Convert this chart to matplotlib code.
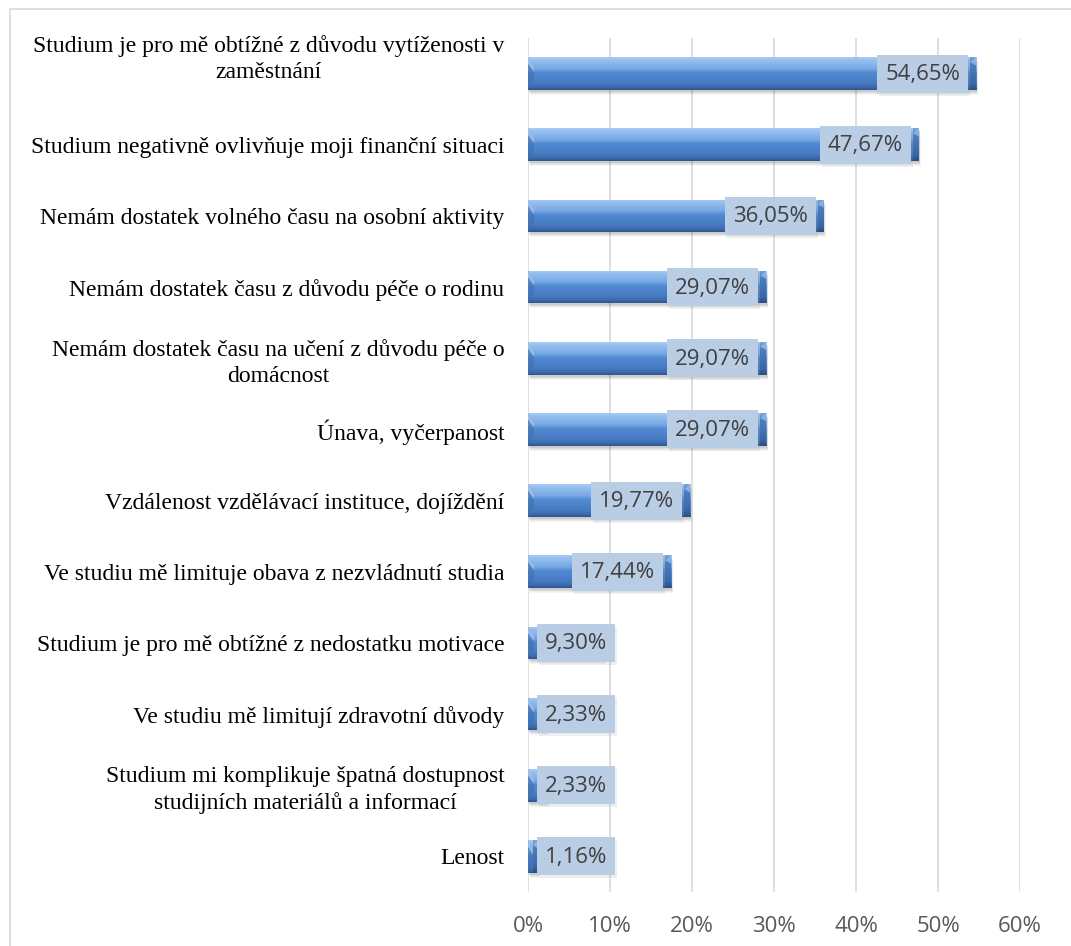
import numpy as np
import matplotlib
matplotlib.use("Agg")
import matplotlib.pyplot as plt
import matplotlib.transforms as mtransforms
from matplotlib.patches import Rectangle, Polygon
from matplotlib.colors import LinearSegmentedColormap

categories = [
    "Studium je pro mě obtížné z důvodu vytíženosti v\nzaměstnání",
    "Studium negativně ovlivňuje moji finanční situaci",
    "Nemám dostatek volného času na osobní aktivity",
    "Nemám dostatek času z důvodu péče o rodinu",
    "Nemám dostatek času na učení z důvodu péče o\ndomácnost",
    "Únava, vyčerpanost",
    "Vzdálenost vzdělávací instituce, dojíždění",
    "Ve studiu mě limituje obava z nezvládnutí studia",
    "Studium je pro mě obtížné z nedostatku motivace",
    "Ve studiu mě limitují zdravotní důvody",
    "Studium mi komplikuje špatná dostupnost\nstudijních materiálů a informací",
    "Lenost",
]
values = [54.65, 47.67, 36.05, 29.07, 29.07, 29.07, 19.77, 17.44, 9.30, 2.33, 2.33, 1.16]
value_labels = ["54,65%", "47,67%", "36,05%", "29,07%", "29,07%", "29,07%",
                "19,77%", "17,44%", "9,30%", "2,33%", "2,33%", "1,16%"]
x_ticks = [0, 10, 20, 30, 40, 50, 60]
x_tick_labels = ["0%", "10%", "20%", "30%", "40%", "50%", "60%"]

W, H, DPI = 1071, 946, 100
fig = plt.figure(figsize=(W / DPI, H / DPI), dpi=DPI)
fig.patch.set_facecolor("white")

# outer chart border (runs off the right and bottom edges)
fig.add_artist(Rectangle((10 / W, -0.2), 2.0, 1 - 9 / H + 0.2, transform=fig.transFigure,
                         facecolor="none", edgecolor="#d9d9d9", lw=1.2))

ax = fig.add_axes([528 / W, 1 - 892 / H, 492 / W, 854 / H])
n = len(categories)
ypos = np.arange(n)
bar_h = 0.46

ax.set_xlim(0, 60)
ax.set_ylim(n - 0.5, -0.5)
for s in ax.spines.values():
    s.set_visible(False)
ax.set_xticks(x_ticks)
ax.set_xticklabels(x_tick_labels, fontsize=16, color="#595959", family="Open Sans")
ax.set_yticks(ypos)
ax.set_yticklabels(categories, fontsize=17, family="Liberation Serif", color="black")
for t in ax.get_yticklabels():
    t.set_multialignment("center")
    t.set_linespacing(1.3)
ax.tick_params(axis="both", length=0)
ax.tick_params(axis="y", pad=17)
ax.tick_params(axis="x", pad=17)
ax.grid(axis="x", color="#d9d9d9", lw=1.2, zorder=0)
ax.set_axisbelow(True)

# the top two-line label sits a little higher than its bar
first = ax.yaxis.get_major_ticks()[0].label1
first.set_transform(first.get_transform() + mtransforms.ScaledTranslation(0, 14 / 72, fig.dpi_scale_trans))

# pixel -> data conversion factors
px_x = 60 / 492.0
px_y = n / 854.0

body_cmap = LinearSegmentedColormap.from_list("body", [
    (0.00, "#a9ccf4"), (0.10, "#95bfef"), (0.35, "#78a9e5"),
    (0.47, "#528bd2"), (0.80, "#4579c0"), (0.92, "#3b6aa9"), (1.00, "#2c5289")])
cap_cmap = LinearSegmentedColormap.from_list("cap", [
    (0.00, "#7fa9dc"), (0.20, "#4f7fbe"), (0.80, "#3a68a6"), (1.00, "#2a4d80")])
grad = np.linspace(0, 1, 256).reshape(-1, 1)

for y, v in zip(ypos, values):
    top, bot = y - bar_h / 2, y + bar_h / 2
    # soft drop shadow
    for k, a in [(5, 0.05), (4, 0.06), (3, 0.08), (2, 0.10)]:
        ax.add_patch(Rectangle((k * 0.4 * px_x, top + k * px_y), v, bar_h,
                               facecolor="#404040", alpha=a, lw=0, zorder=2))
    body = Rectangle((0, top), v, bar_h, facecolor="#4f81bd", lw=0, zorder=3)
    ax.add_patch(body)
    im = ax.imshow(grad, extent=[0, v, bot, top], aspect="auto", cmap=body_cmap,
                   interpolation="bicubic", zorder=3.1)
    im.set_clip_path(body)
    # bevelled ends
    bw = min(6 * px_x, v / 2)
    ax.add_patch(Polygon([(0, top), (bw, top + 0.3 * bar_h), (bw, bot - 0.3 * bar_h), (0, bot)],
                         closed=True, facecolor="#3f6ead", alpha=0.55, lw=0, zorder=3.2))
    ax.add_patch(Polygon([(0, top), (bw, top + 0.3 * bar_h), (bw, top + 0.45 * bar_h), (0, top + 0.2 * bar_h)],
                         closed=True, facecolor="#c7dcf6", alpha=0.6, lw=0, zorder=3.3))
    cap = Rectangle((v - bw, top), bw, bar_h, lw=0, facecolor="none", zorder=3.4)
    ax.add_patch(cap)
    im2 = ax.imshow(grad, extent=[v - bw, v, bot, top], aspect="auto", cmap=cap_cmap,
                    interpolation="bicubic", zorder=3.4)
    im2.set_clip_path(cap)
    ax.add_patch(Polygon([(v - bw, top + 0.15 * bar_h), (v, top), (v, top + 0.25 * bar_h)],
                         closed=True, facecolor="#9cc2ef", alpha=0.7, lw=0, zorder=3.5))

ax.set_xlim(0, 60)
ax.set_ylim(n - 0.5, -0.5)

# value labels in boxes at the inside end of each bar
fig.canvas.draw()
renderer = fig.canvas.get_renderer()
box_h = 38 * px_y
for y, v, lab in zip(ypos, values, value_labels):
    t = ax.text(v, y, lab, ha="center", va="center", fontsize=16, family="Open Sans",
                color="#404040", zorder=6)
    wpx = t.get_window_extent(renderer).width
    bwid = (wpx + 16) * px_x
    right = v - 8 * px_x
    left = right - bwid
    if left < 9 * px_x:
        left = 9 * px_x
    t.set_x(left + bwid / 2)
    t.set_y(y + 1 * px_y)
    ax.add_patch(Rectangle((left + 2 * px_x, y - box_h / 2 + 3 * px_y), bwid, box_h,
                           facecolor="#808080", alpha=0.12, lw=0, zorder=4.9))
    ax.add_patch(Rectangle((left, y - box_h / 2), bwid, box_h,
                           facecolor="#b9cde5", lw=0, zorder=5))

fig.savefig("out.png", dpi=DPI)
